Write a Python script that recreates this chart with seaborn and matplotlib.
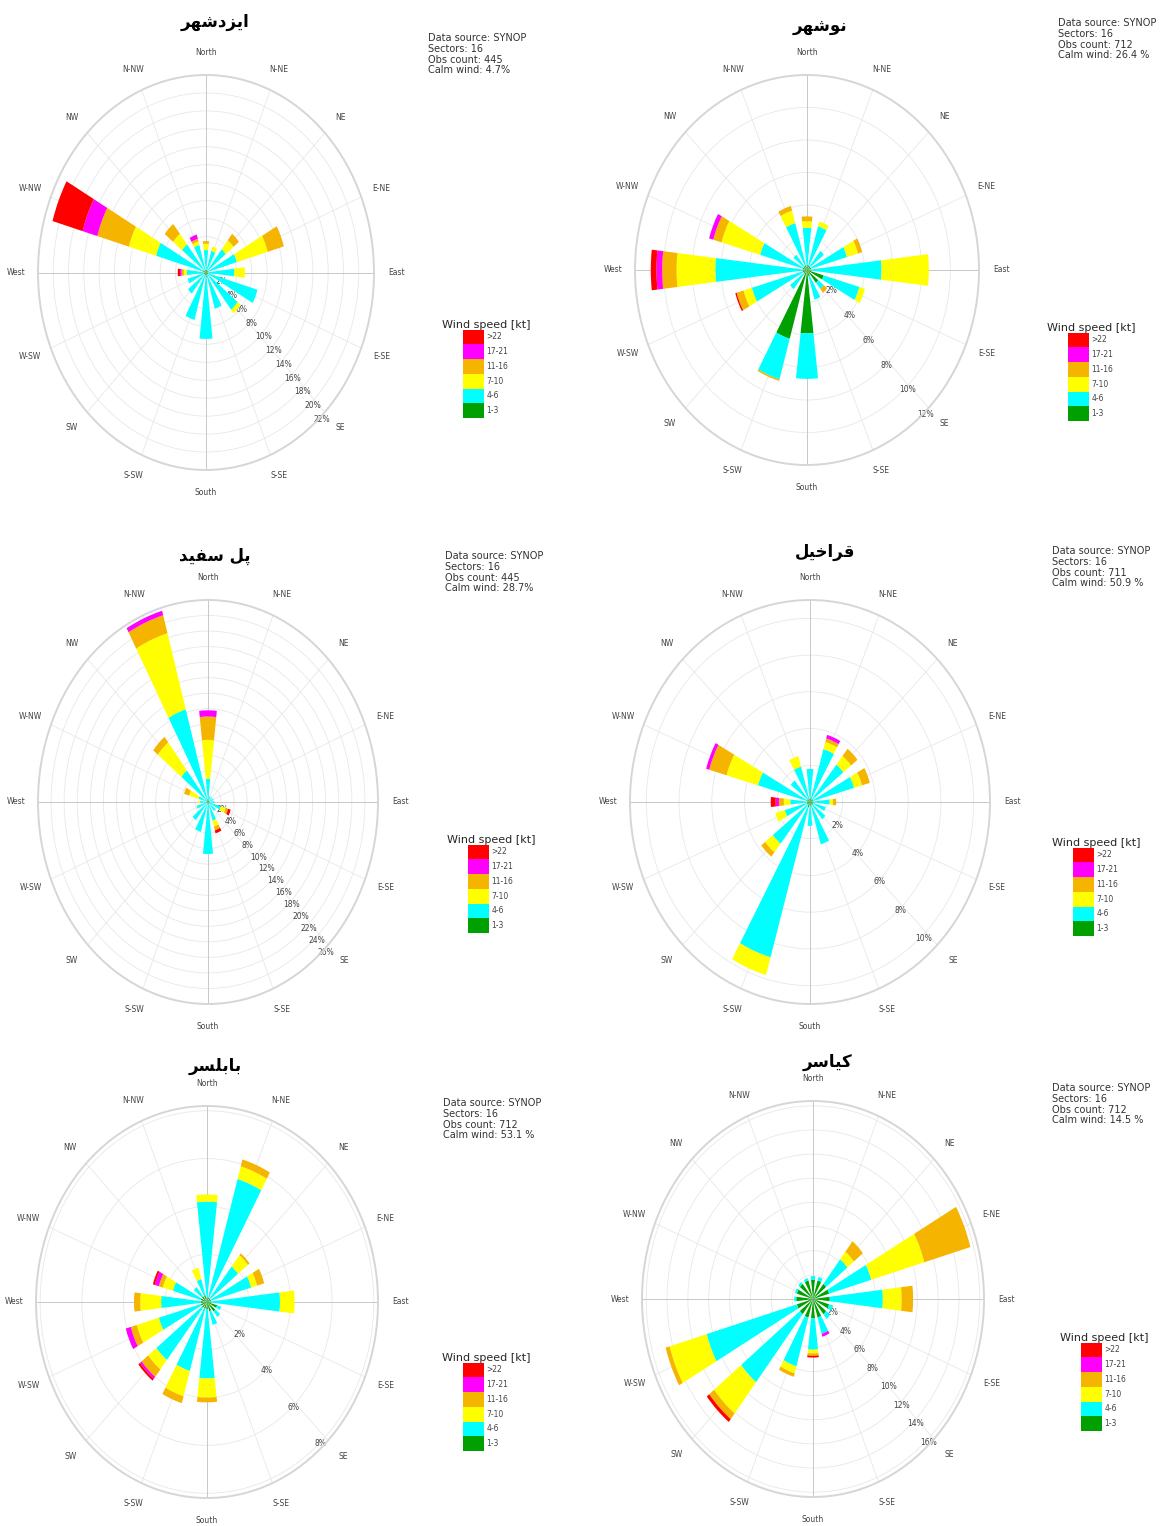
import numpy as np
import matplotlib
matplotlib.use("Agg")
import matplotlib.pyplot as plt
from matplotlib.patches import Patch
import seaborn as sns

sns.set_theme(style="white")
plt.rcParams["font.family"] = ["DejaVu Sans"]

# --- data (percent of observations per direction and speed class) ---
DIRS = ["North", "N-NE", "NE", "E-NE", "East", "E-SE", "SE", "S-SE",
        "South", "S-SW", "SW", "W-SW", "West", "W-NW", "NW", "N-NW"]
SPEED_BINS = ["1-3", "4-6", "7-10", "11-16", "17-21", ">22"]
SPEED_COLORS = ["#00A000", "#00FFFF", "#FFFF00", "#F5B400", "#FF00FF", "#FF0000"]

# rows = directions (N clockwise), cols = speed classes 1-3 ... >22
izadshahr = [
    [0.3, 2.2, 0.7, 0.3, 0.0, 0.0], [0.3, 2.2, 0.5, 0.0, 0.0, 0.0],
    [0.3, 3.0, 1.3, 0.9, 0.0, 0.0], [0.3, 3.9, 4.2, 2.2, 0.0, 0.0],
    [0.3, 3.4, 1.4, 0.0, 0.0, 0.0], [0.3, 6.7, 0.0, 0.0, 0.0, 0.0],
    [0.3, 5.0, 0.5, 0.0, 0.0, 0.0], [0.3, 3.9, 0.0, 0.0, 0.0, 0.0],
    [0.5, 6.9, 0.0, 0.0, 0.0, 0.0], [0.3, 5.2, 0.0, 0.0, 0.0, 0.0],
    [0.3, 2.7, 0.0, 0.0, 0.0, 0.0], [0.3, 2.2, 0.0, 0.0, 0.0, 0.0],
    [0.3, 2.2, 0.4, 0.3, 0.2, 0.3], [0.5, 6.3, 3.7, 4.3, 2.0, 4.1],
    [0.3, 3.7, 1.5, 1.4, 0.0, 0.0], [0.3, 2.9, 0.4, 0.3, 0.5, 0.0],
]
nowshahr = [
    [0.3, 2.3, 0.4, 0.3, 0.0, 0.0], [0.3, 2.5, 0.3, 0.0, 0.0, 0.0],
    [0.3, 1.2, 0.0, 0.0, 0.0, 0.0], [0.3, 2.6, 0.8, 0.3, 0.0, 0.0],
    [0.3, 4.9, 3.3, 0.0, 0.0, 0.0], [1.2, 2.6, 0.4, 0.0, 0.0, 0.0],
    [1.0, 0.5, 0.0, 0.3, 0.0, 0.0], [0.4, 1.5, 0.0, 0.0, 0.0, 0.0],
    [3.9, 2.8, 0.0, 0.0, 0.0, 0.0], [4.4, 2.6, 0.0, 0.1, 0.0, 0.0],
    [0.3, 1.2, 0.0, 0.0, 0.0, 0.0], [0.3, 3.7, 0.6, 0.5, 0.0, 0.1],
    [0.3, 6.1, 2.7, 1.0, 0.4, 0.4], [0.3, 3.1, 2.8, 0.6, 0.3, 0.0],
    [0.3, 0.9, 0.0, 0.0, 0.0, 0.0], [0.3, 2.7, 0.8, 0.3, 0.0, 0.0],
]
polsefid = [
    [0.3, 2.7, 5.0, 3.0, 0.8, 0.0], [0.2, 0.6, 0.0, 0.0, 0.0, 0.0],
    [0.2, 0.6, 0.0, 0.0, 0.0, 0.0], [0.2, 0.7, 0.0, 0.0, 0.0, 0.0],
    [0.2, 0.8, 0.0, 0.0, 0.0, 0.0], [0.2, 1.8, 0.8, 0.4, 0.0, 0.4],
    [0.2, 1.3, 0.0, 0.0, 0.0, 0.0], [0.2, 2.3, 0.8, 0.5, 0.0, 0.4],
    [0.3, 6.4, 0.0, 0.0, 0.0, 0.0], [0.2, 3.8, 0.0, 0.0, 0.0, 0.0],
    [0.2, 2.8, 0.0, 0.0, 0.0, 0.0], [0.2, 1.6, 0.0, 0.0, 0.0, 0.0],
    [0.2, 1.0, 0.3, 0.0, 0.0, 0.0], [0.2, 1.3, 1.5, 0.8, 0.0, 0.0],
    [0.3, 4.9, 4.6, 0.9, 0.0, 0.0], [0.5, 11.9, 10.2, 2.4, 0.6, 0.0],
]
gharakhil = [
    [0.2, 1.6, 0.0, 0.0, 0.0, 0.0], [0.2, 2.8, 0.4, 0.2, 0.2, 0.0],
    [0.2, 2.4, 0.6, 0.5, 0.0, 0.0], [0.2, 2.6, 0.5, 0.5, 0.0, 0.0],
    [0.2, 1.0, 0.2, 0.2, 0.0, 0.0], [0.2, 0.8, 0.0, 0.0, 0.0, 0.0],
    [0.2, 1.0, 0.0, 0.0, 0.0, 0.0], [0.2, 2.2, 0.0, 0.0, 0.0, 0.0],
    [0.2, 1.1, 0.0, 0.0, 0.0, 0.0], [0.3, 8.5, 1.0, 0.0, 0.0, 0.0],
    [0.2, 2.7, 0.6, 0.3, 0.0, 0.0], [0.2, 1.4, 0.6, 0.0, 0.0, 0.0],
    [0.2, 1.0, 0.4, 0.3, 0.2, 0.3], [0.2, 3.1, 2.0, 1.1, 0.2, 0.0],
    [0.2, 1.3, 0.0, 0.0, 0.0, 0.0], [0.2, 1.8, 0.6, 0.0, 0.0, 0.0],
]
babolsar = [
    [0.2, 4.0, 0.3, 0.0, 0.0, 0.0], [0.2, 5.15, 0.55, 0.3, 0.0, 0.0],
    [0.2, 1.7, 0.6, 0.1, 0.0, 0.0], [0.2, 2.0, 0.3, 0.35, 0.0, 0.0],
    [0.2, 3.3, 0.7, 0.0, 0.0, 0.0], [0.5, 0.2, 0.0, 0.0, 0.0, 0.0],
    [0.5, 0.3, 0.0, 0.0, 0.0, 0.0], [0.4, 0.6, 0.0, 0.0, 0.0, 0.0],
    [0.3, 2.9, 0.8, 0.2, 0.0, 0.0], [0.3, 2.7, 1.1, 0.3, 0.0, 0.0],
    [0.3, 2.8, 0.5, 0.4, 0.1, 0.1], [0.3, 2.1, 1.1, 0.3, 0.25, 0.0],
    [0.3, 1.9, 1.0, 0.3, 0.0, 0.0], [0.3, 1.4, 0.5, 0.2, 0.2, 0.1],
    [0.3, 0.5, 0.0, 0.0, 0.0, 0.0], [0.3, 0.7, 0.5, 0.0, 0.0, 0.0],
]
kiasar = [
    [1.6, 0.3, 0.0, 0.0, 0.0, 0.0], [1.6, 0.3, 0.0, 0.0, 0.0, 0.0],
    [1.6, 2.6, 0.8, 1.1, 0.0, 0.0], [1.6, 4.2, 5.3, 4.6, 0.0, 0.0],
    [1.6, 5.1, 1.8, 1.1, 0.0, 0.0], [1.6, 0.4, 0.0, 0.0, 0.0, 0.0],
    [1.6, 0.5, 0.0, 0.0, 0.0, 0.0], [1.6, 1.4, 0.0, 0.0, 0.25, 0.0],
    [1.6, 2.6, 0.3, 0.2, 0.0, 0.15], [1.6, 4.2, 0.6, 0.3, 0.0, 0.0],
    [1.6, 7.2, 3.3, 0.6, 0.0, 0.3], [1.6, 9.0, 3.7, 0.4, 0.0, 0.0],
    [1.6, 0.2, 0.0, 0.0, 0.0, 0.0], [1.6, 0.2, 0.0, 0.0, 0.0, 0.0],
    [1.6, 0.2, 0.0, 0.0, 0.0, 0.0], [1.6, 0.2, 0.0, 0.0, 0.0, 0.0],
]

STATION_NAMES = ["ایزدشهر", "نوشهر", "پل سفید", "قراخیل", "بابلسر", "کیاسر"]
STATION_DATA = [izadshahr, nowshahr, polsefid, gharakhil, babolsar, kiasar]
OBS_COUNT = [445, 712, 445, 711, 712, 712]
CALM_TEXT = ["4.7%", "26.4 %", "28.7%", "50.9 %", "53.1 %", "14.5 %"]
R_MAX = [22, 12, 26, 11, 8.2, 16.4]
R_STEP = [2, 2, 2, 2, 2, 2]

# --- Persian shaping (matplotlib has no complex text layout) ---
FORMS = {  # isolated, final, initial, medial
    "ا": ("\uFE8D", "\uFE8E", None, None),
    "ب": ("\uFE8F", "\uFE90", "\uFE91", "\uFE92"),
    "پ": ("\uFB56", "\uFB57", "\uFB58", "\uFB59"),
    "خ": ("\uFEA5", "\uFEA6", "\uFEA7", "\uFEA8"),
    "د": ("\uFEA9", "\uFEAA", None, None),
    "ر": ("\uFEAD", "\uFEAE", None, None),
    "ز": ("\uFEAF", "\uFEB0", None, None),
    "س": ("\uFEB1", "\uFEB2", "\uFEB3", "\uFEB4"),
    "ش": ("\uFEB5", "\uFEB6", "\uFEB7", "\uFEB8"),
    "ف": ("\uFED1", "\uFED2", "\uFED3", "\uFED4"),
    "ق": ("\uFED5", "\uFED6", "\uFED7", "\uFED8"),
    "ک": ("\uFB8E", "\uFB8F", "\uFB90", "\uFB91"),
    "ل": ("\uFEDD", "\uFEDE", "\uFEDF", "\uFEE0"),
    "ن": ("\uFEE5", "\uFEE6", "\uFEE7", "\uFEE8"),
    "ه": ("\uFEE9", "\uFEEA", "\uFEEB", "\uFEEC"),
    "و": ("\uFEED", "\uFEEE", None, None),
    "ی": ("\uFBFC", "\uFBFD", "\uFBFE", "\uFBFF"),
}


def shape_fa(word):
    out = []
    for i, ch in enumerate(word):
        if ch not in FORMS:
            out.append(ch)
            continue
        prev = word[i - 1] if i > 0 else None
        nxt = word[i + 1] if i + 1 < len(word) else None
        join_prev = prev in FORMS and FORMS[prev][2] is not None
        join_next = nxt in FORMS and FORMS[ch][2] is not None
        iso, fin, ini, med = FORMS[ch]
        if join_prev and join_next:
            out.append(med)
        elif join_prev:
            out.append(fin)
        elif join_next:
            out.append(ini)
        else:
            out.append(iso)
    return "".join(reversed(out))


W, H = 1169, 1526
fig = plt.figure(figsize=(W / 100, H / 100), dpi=100)

# polar axes boxes in pixels: (left, top, width, height)
boxes = [(38, 75, 336, 395), (635, 75, 344, 390),
         (38, 600, 340, 404), (630, 600, 360, 404),
         (36, 1106, 342, 392), (642, 1101, 342, 396)]
title_xy = [(215, 22), (820, 26), (215, 556), (825, 552), (215, 1066), (828, 1062)]
info_xy = [(428, 33), (1058, 18), (445, 551), (1052, 546), (443, 1098), (1052, 1083)]
legend_xy = [(440, 318), (1045, 321), (445, 833), (1050, 836), (440, 1351), (1058, 1331)]

theta = np.deg2rad(np.arange(16) * 22.5)
handles = [Patch(facecolor=c, edgecolor="none") for c in SPEED_COLORS][::-1]
labels = SPEED_BINS[::-1]

for i in range(6):
    l, t, w, h = boxes[i]
    ax = fig.add_axes([l / W, 1 - (t + h) / H, w / W, h / H], projection="polar")
    ax.set_aspect("auto")
    ax.set_theta_zero_location("N")
    ax.set_theta_direction(-1)

    vals = np.array(STATION_DATA[i])
    bottom = np.zeros(16)
    for k in range(len(SPEED_BINS)):
        ax.bar(theta, vals[:, k], width=0.23, bottom=bottom,
               color=SPEED_COLORS[k], linewidth=0, zorder=3)
        bottom += vals[:, k]

    rmax = R_MAX[i]
    ticks = np.arange(R_STEP[i], rmax + 0.01, R_STEP[i])
    ax.set_ylim(0, rmax)
    ax.set_yticks(ticks)
    ax.set_yticklabels([f"{v:g}%" for v in ticks], fontsize=5.5, color="#444444")
    ax.set_rlabel_position(140)
    ax.set_xticks(theta)
    ax.set_xticklabels(DIRS, fontsize=5.5, color="#444444")
    ax.tick_params(axis="x", pad=3)
    ax.grid(color="#e8e8e8", linewidth=0.6)
    for a in (0, np.pi / 2, np.pi, 3 * np.pi / 2):
        ax.plot([a, a], [0, rmax], color="#c8c8c8", linewidth=0.7, zorder=2)
    ax.spines["polar"].set_color("#d6d6d6")
    ax.spines["polar"].set_linewidth(1.4)
    for lab in ax.get_yticklabels():
        lab.set_zorder(5)

    tx, ty = title_xy[i]
    fig.text(tx / W, 1 - ty / H, shape_fa(STATION_NAMES[i]), ha="center", va="center",
             fontsize=12, fontweight="bold", color="black")

    ix, iy = info_xy[i]
    info = (f"Data source: SYNOP\nSectors: 16\nObs count: {OBS_COUNT[i]}\n"
            f"Calm wind: {CALM_TEXT[i]}")
    fig.text(ix / W, 1 - iy / H, info, ha="left", va="top", fontsize=7,
             color="#333333", linespacing=1.1)

    lx, ly = legend_xy[i]
    leg = fig.legend(handles, labels, title="Wind speed [kt]", loc="upper left",
                     bbox_to_anchor=(lx / W, 1 - ly / H), frameon=False,
                     fontsize=5.5, title_fontsize=8, labelspacing=0,
                     handlelength=2.7, handleheight=2.6, handletextpad=0.4,
                     borderpad=0.2, borderaxespad=0)
    for txt in leg.get_texts():
        txt.set_color("#444444")

fig.savefig("out.png", dpi=100)
